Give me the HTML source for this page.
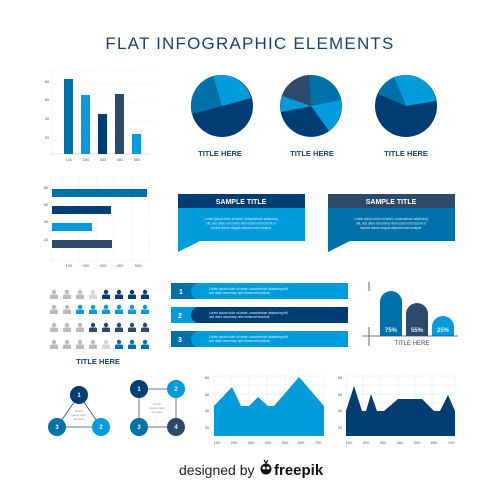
<!DOCTYPE html>
<html><head><meta charset="utf-8"><style>
html,body{margin:0;padding:0;background:#fff;}
svg{display:block;font-family:"Liberation Sans",sans-serif;}
</style></head><body>
<svg width="500" height="500" viewBox="0 0 500 500" xmlns="http://www.w3.org/2000/svg">
<text x="250" y="49" text-anchor="middle" font-size="17" fill="#1d3f73" letter-spacing="1.2">FLAT INFOGRAPHIC ELEMENTS</text>

<g stroke="#e4e4e4" stroke-width="0.6" stroke-dasharray="1.5,1">
<line x1="52" y1="70" x2="153" y2="70"/><line x1="52" y1="84" x2="153" y2="84"/><line x1="52" y1="102" x2="153" y2="102"/><line x1="52" y1="121" x2="153" y2="121"/><line x1="52" y1="140" x2="153" y2="140"/>
<line x1="52" y1="69" x2="52" y2="155"/></g>
<line x1="50" y1="154" x2="150" y2="154" stroke="#ccc" stroke-width="0.6"/>
<rect x="64" y="79" width="9" height="75" fill="#0071a8"/>
<rect x="81" y="95" width="9" height="59" fill="#009bdb"/>
<rect x="98" y="114" width="9" height="40" fill="#003d73"/>
<rect x="115" y="94" width="9" height="60" fill="#2d4a6b"/>
<rect x="132" y="134" width="9" height="20" fill="#009bdb"/>
<g font-size="4" fill="#555" text-anchor="middle"><text x="69" y="161">100</text><text x="86" y="161">200</text><text x="103" y="161">300</text><text x="120" y="161">400</text><text x="137" y="161">500</text>
<text x="47" y="83">80</text><text x="47" y="101">60</text><text x="47" y="120">40</text><text x="47" y="139">20</text></g>

<g stroke="#e0e0e0" stroke-width="0.6" stroke-dasharray="1.5,1">
<line x1="62" y1="177" x2="62" y2="262"/><line x1="79" y1="177" x2="79" y2="262"/><line x1="97" y1="177" x2="97" y2="262"/><line x1="114" y1="177" x2="114" y2="262"/><line x1="132" y1="177" x2="132" y2="262"/><line x1="149" y1="177" x2="149" y2="262"/>
<line x1="51" y1="177" x2="149" y2="177"/><line x1="51" y1="261" x2="149" y2="261"/><line x1="51" y1="177" x2="51" y2="262"/></g>
<rect x="52" y="189" width="95" height="8" fill="#0071a8"/>
<rect x="52" y="206" width="59" height="8" fill="#003d73"/>
<rect x="52" y="223" width="40" height="8" fill="#009bdb"/>
<rect x="52" y="240" width="60" height="8" fill="#2d4a6b"/>
<g font-size="4" fill="#555" text-anchor="middle"><text x="69" y="267">100</text><text x="86" y="267">200</text><text x="103" y="267">300</text><text x="120" y="267">400</text><text x="138" y="267">500</text>
<text x="46" y="189">80</text><text x="46" y="206">60</text><text x="46" y="223">40</text><text x="46" y="241">20</text></g>

<g transform="translate(222,106)">
<circle r="31" fill="#003d73"/>
<path d="M0,0 L-30,8 A31,31 0 0 1 -9,-30 Z" fill="#0071a8"/>
<path d="M0,0 L-9,-30 A31,31 0 0 1 29,-8 Z" fill="#009bdb"/>
</g>
<g transform="translate(311,106)">
<circle r="31" fill="#0071a8"/>
<path d="M0,0 L-29,-10 A31,31 0 0 1 -2,-31 Z" fill="#2d4a6b"/>
<path d="M0,0 L-2,-31 A31,31 0 0 1 30,-6 Z" fill="#0071a8"/>
<path d="M0,0 L30,-6 A31,31 0 0 1 18,25 Z" fill="#009bdb"/>
<path d="M0,0 L18,25 A31,31 0 0 1 -30,6 Z" fill="#003d73"/>
<path d="M0,0 L-30,6 A31,31 0 0 1 -29,-10 Z" fill="#009bdb"/>
</g>
<g transform="translate(406,106)">
<circle r="31" fill="#003d73"/>
<path d="M0,0 L-28,-12 A31,31 0 0 1 -12,-29 Z" fill="#0071a8"/>
<path d="M0,0 L-12,-29 A31,31 0 0 1 30,-5 Z" fill="#009bdb"/>
</g>
<g font-size="7.5" fill="#1d3f73" text-anchor="middle" font-weight="bold"><text x="220" y="156">TITLE HERE</text><text x="312" y="156">TITLE HERE</text><text x="406" y="156">TITLE HERE</text></g>

<path d="M178,208 H305 V241 H200 L178,252 Z" fill="#009bdb"/>
<rect x="178" y="194" width="127" height="14" fill="#003d73"/>
<text x="241" y="204" text-anchor="middle" font-size="7" font-weight="bold" fill="#fff">SAMPLE TITLE</text>
<g font-size="3.2" fill="#d6ecfa" text-anchor="middle"><text x="241" y="220">Lorem ipsum dolor sit amet, consectetuer adipiscing</text><text x="241" y="224.5">elit, sed diam nonummy nibh euismod tincidunt ut</text><text x="241" y="229">laoreet dolore magna aliquam erat volutpat.</text></g>
<path d="M328,208 H455 V241 H350 L328,252 Z" fill="#0071a8"/>
<rect x="328" y="194" width="127" height="14" fill="#2d4a6b"/>
<text x="391" y="204" text-anchor="middle" font-size="7" font-weight="bold" fill="#fff">SAMPLE TITLE</text>
<g font-size="3.2" fill="#d6ecfa" text-anchor="middle"><text x="391" y="220">Lorem ipsum dolor sit amet, consectetuer adipiscing</text><text x="391" y="224.5">elit, sed diam nonummy nibh euismod tincidunt ut</text><text x="391" y="229">laoreet dolore magna aliquam erat volutpat.</text></g>

<defs><g id="p"><circle cx="0" cy="-3" r="2.2"/><path d="M-4,4 V1 Q-4,-0.5 -2.5,-0.5 H2.5 Q4,-0.5 4,1 V4 Z"/></g></defs>
<g>
<use href="#p" x="54" y="295" fill="#bbb"/><use href="#p" x="67" y="295" fill="#bbb"/><use href="#p" x="80" y="295" fill="#bbb"/><use href="#p" x="93" y="295" fill="#d6d6d6"/><use href="#p" x="106" y="295" fill="#003d73"/><use href="#p" x="119" y="295" fill="#003d73"/><use href="#p" x="132" y="295" fill="#003d73"/><use href="#p" x="145" y="295" fill="#003d73"/>
<use href="#p" x="54" y="310" fill="#bbb"/><use href="#p" x="67" y="310" fill="#bbb"/><use href="#p" x="80" y="310" fill="#009bdb"/><use href="#p" x="93" y="310" fill="#009bdb"/><use href="#p" x="106" y="310" fill="#009bdb"/><use href="#p" x="119" y="310" fill="#009bdb"/><use href="#p" x="132" y="310" fill="#009bdb"/><use href="#p" x="145" y="310" fill="#009bdb"/>
<use href="#p" x="54" y="328" fill="#bbb"/><use href="#p" x="67" y="328" fill="#bbb"/><use href="#p" x="80" y="328" fill="#bbb"/><use href="#p" x="93" y="328" fill="#2d4a6b"/><use href="#p" x="106" y="328" fill="#2d4a6b"/><use href="#p" x="119" y="328" fill="#2d4a6b"/><use href="#p" x="132" y="328" fill="#2d4a6b"/><use href="#p" x="145" y="328" fill="#2d4a6b"/>
<use href="#p" x="54" y="345" fill="#bbb"/><use href="#p" x="67" y="345" fill="#bbb"/><use href="#p" x="80" y="345" fill="#bbb"/><use href="#p" x="93" y="345" fill="#bbb"/><use href="#p" x="106" y="345" fill="#d6d6d6"/><use href="#p" x="119" y="345" fill="#0071a8"/><use href="#p" x="132" y="345" fill="#0071a8"/><use href="#p" x="145" y="345" fill="#0071a8"/>
</g>
<text x="98" y="364" text-anchor="middle" font-size="7.5" font-weight="bold" fill="#1d3f73">TITLE HERE</text>

<g>
<rect x="171" y="283" width="177" height="16" fill="#009bdb"/><rect x="171" y="283" width="25" height="16" fill="#0071a8"/><rect x="191" y="283" width="157" height="16" rx="8" fill="#009bdb"/><rect x="300" y="283" width="48" height="16" fill="#009bdb"/>
<rect x="171" y="307" width="177" height="16" fill="#009bdb"/><rect x="191" y="307" width="157" height="16" rx="8" fill="#003d73"/><rect x="300" y="307" width="48" height="16" fill="#003d73"/>
<rect x="171" y="331" width="177" height="16" fill="#009bdb"/><rect x="171" y="331" width="25" height="16" fill="#0071a8"/><rect x="191" y="331" width="157" height="16" rx="8" fill="#009bdb"/><rect x="300" y="331" width="48" height="16" fill="#009bdb"/>
<g font-size="7" font-weight="bold" fill="#fff"><text x="179" y="294">1</text><text x="178" y="318">2</text><text x="178" y="342">3</text></g>
<g font-size="3.2" fill="#e3f2fb"><text x="209" y="290">Lorem ipsum dolor sit amet, consectetuer adipiscing elit,</text><text x="209" y="294">sed diam nonummy nibh euismod tincidunt.</text>
<text x="209" y="314">Lorem ipsum dolor sit amet, consectetuer adipiscing elit,</text><text x="209" y="318">sed diam nonummy nibh euismod tincidunt.</text>
<text x="209" y="338">Lorem ipsum dolor sit amet, consectetuer adipiscing elit,</text><text x="209" y="342">sed diam nonummy nibh euismod tincidunt.</text></g>
</g>

<line x1="369" y1="282" x2="369" y2="291" stroke="#2d4a6b" stroke-width="0.8"/>
<line x1="369" y1="327" x2="369" y2="346" stroke="#2d4a6b" stroke-width="0.8"/>
<path d="M380,336 V302 A11,11 0 0 1 402,302 V336 Z" fill="#0071a8"/>
<path d="M406,336 V314 A11,11 0 0 1 428,314 V336 Z" fill="#2d4a6b"/>
<path d="M432,336 V327 A11,11 0 0 1 454,327 V336 Z" fill="#009bdb"/>
<line x1="362" y1="336" x2="458" y2="336" stroke="#2d4a6b" stroke-width="0.8"/>
<g font-size="6" font-weight="bold" fill="#e3f2fb" text-anchor="middle"><text x="391" y="332">75%</text><text x="417" y="332">55%</text><text x="443" y="332">25%</text></g>
<text x="412" y="345" text-anchor="middle" font-size="6" fill="#2d4a6b">TITLE HERE</text>

<g stroke="#2d4a6b" stroke-width="0.8"><line x1="79" y1="395" x2="57" y2="427"/><line x1="79" y1="395" x2="101" y2="427"/><line x1="57" y1="427" x2="101" y2="427"/></g>
<circle cx="79" cy="395" r="9" fill="#003d73"/><circle cx="57" cy="427" r="9" fill="#0071a8"/><circle cx="101" cy="427" r="9" fill="#009bdb"/>
<g font-size="6" font-weight="bold" fill="#fff" text-anchor="middle"><text x="79" y="397">1</text><text x="57" y="429">3</text><text x="101" y="429">2</text></g>
<g font-size="3" fill="#888" text-anchor="middle"><text x="79" y="412">Lorem</text><text x="79" y="416">ipsum dolor</text><text x="79" y="420">sit amet.</text></g>

<g stroke="#2d4a6b" stroke-width="0.8"><line x1="139" y1="389" x2="176" y2="389"/><line x1="139" y1="427" x2="176" y2="427"/></g>
<g stroke="#9aa6b2" stroke-width="1.5"><line x1="139" y1="389" x2="139" y2="427"/><line x1="176" y1="389" x2="176" y2="427"/></g>
<circle cx="139" cy="389" r="9" fill="#003d73"/><circle cx="176" cy="389" r="9" fill="#009bdb"/><circle cx="139" cy="427" r="9" fill="#0071a8"/><circle cx="176" cy="427" r="9" fill="#2d4a6b"/>
<g font-size="6" font-weight="bold" fill="#fff" text-anchor="middle"><text x="139" y="391">1</text><text x="176" y="391">2</text><text x="139" y="429">3</text><text x="176" y="429">4</text></g>
<g font-size="3" fill="#888" text-anchor="middle"><text x="157" y="405">Lorem</text><text x="157" y="409">ipsum dolor</text><text x="157" y="413">sit amet.</text></g>

<g stroke="#e6e6e6" stroke-width="0.5">
<line x1="214" y1="376" x2="324" y2="376"/><line x1="214" y1="385" x2="324" y2="385"/><line x1="214" y1="394" x2="324" y2="394"/><line x1="214" y1="403" x2="324" y2="403"/><line x1="214" y1="411" x2="324" y2="411"/><line x1="214" y1="420" x2="324" y2="420"/><line x1="214" y1="428" x2="324" y2="428"/>
<line x1="214" y1="375" x2="214" y2="436"/><line x1="231" y1="375" x2="231" y2="436"/><line x1="249" y1="375" x2="249" y2="436"/><line x1="267" y1="375" x2="267" y2="436"/><line x1="285" y1="375" x2="285" y2="436"/><line x1="302" y1="375" x2="302" y2="436"/><line x1="324" y1="375" x2="324" y2="436"/></g>
<path d="M214,436 V406 L232,387 L241,406 L249,406 L258,397 L268,406 L274,406 L299,377 L324,406 V436 Z" fill="#009bdb"/>
<g font-size="4" fill="#555" text-anchor="middle"><text x="217" y="444">100</text><text x="234" y="444">200</text><text x="251" y="444">300</text><text x="268" y="444">400</text><text x="285" y="444">500</text><text x="301" y="444">600</text><text x="318" y="444">700</text>
<text x="207" y="379">80</text><text x="207" y="396">60</text><text x="207" y="412">40</text><text x="207" y="429">20</text></g>

<g stroke="#e6e6e6" stroke-width="0.5">
<line x1="346" y1="376" x2="455" y2="376"/><line x1="346" y1="385" x2="455" y2="385"/><line x1="346" y1="394" x2="455" y2="394"/><line x1="346" y1="403" x2="455" y2="403"/><line x1="346" y1="411" x2="455" y2="411"/><line x1="346" y1="420" x2="455" y2="420"/><line x1="346" y1="428" x2="455" y2="428"/>
<line x1="346" y1="375" x2="346" y2="436"/><line x1="363" y1="375" x2="363" y2="436"/><line x1="380" y1="375" x2="380" y2="436"/><line x1="398" y1="375" x2="398" y2="436"/><line x1="415" y1="375" x2="415" y2="436"/><line x1="432" y1="375" x2="432" y2="436"/><line x1="455" y1="375" x2="455" y2="436"/></g>
<path d="M346,436 V411 L354,386 L362,411 L366,411 L371,394 L377,411 L384,411 L398,399 L422,399 L434,411 L440,411 L448,395 L455,411 V436 Z" fill="#003d73"/>
<g font-size="4" fill="#555" text-anchor="middle"><text x="349" y="444">100</text><text x="366" y="444">200</text><text x="383" y="444">300</text><text x="400" y="444">400</text><text x="417" y="444">500</text><text x="434" y="444">600</text><text x="451" y="444">700</text>
<text x="340" y="379">80</text><text x="340" y="396">60</text><text x="340" y="412">40</text><text x="340" y="429">20</text></g>

<text x="179" y="475" font-size="14" fill="#222">designed by</text>
<g transform="translate(266,469)"><circle r="5.5" fill="#111"/><circle cx="-2" cy="-1" r="1.5" fill="#fff"/><circle cx="2" cy="-1" r="1.5" fill="#fff"/><path d="M-2,-9 L0,-6 L2,-9" stroke="#111" fill="none" stroke-width="1.2"/></g>
<text x="274" y="475" font-size="15" font-weight="bold" fill="#111">freepik</text>
</svg>
</body></html>
